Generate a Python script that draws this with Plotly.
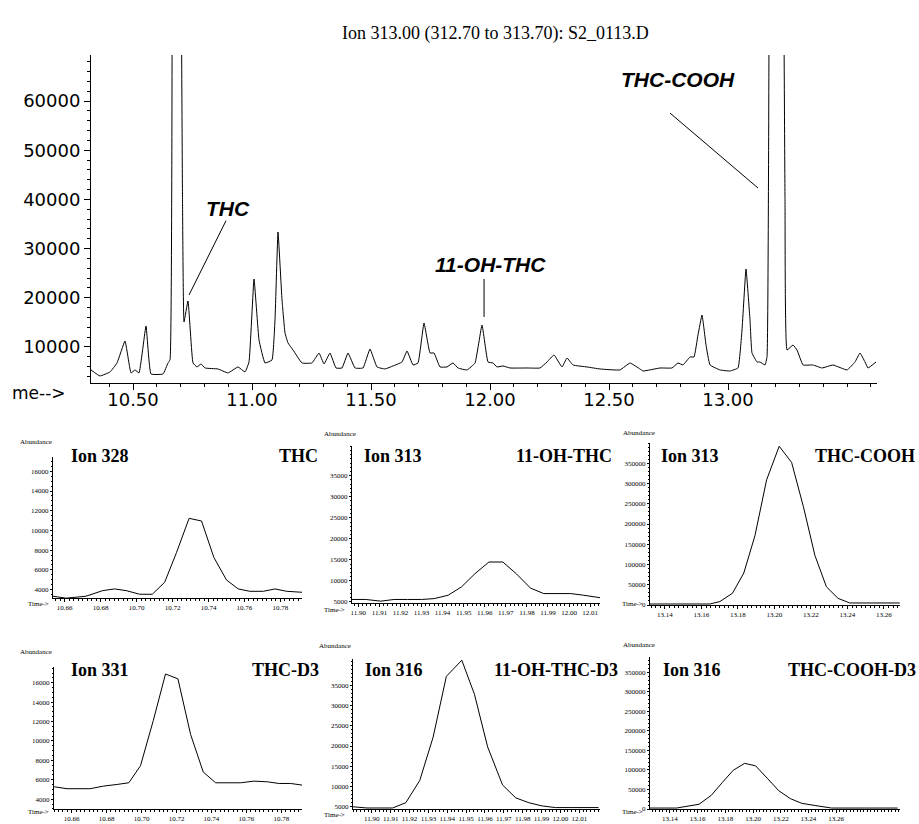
import plotly.graph_objects as go

W, H = 919, 824

# ---------------- data ----------------
# main chromatogram, Ion 313
rt_main = [10.3235, 10.3613, 10.4034, 10.4328, 10.4664, 10.4916, 10.5084, 10.5252, 10.5546, 10.5756,
           10.6261, 10.6471, 10.6555, 10.6660, 10.6807, 10.6954, 10.7080, 10.7143, 10.7311, 10.7521,
           10.7689, 10.7857, 10.8025, 10.8571, 10.8992, 10.9412, 10.9706, 10.9874, 11.0084, 11.0294,
           11.0546, 11.0840, 11.0966, 11.1092, 11.1261, 11.1387, 11.1513, 11.1723, 11.2101, 11.2521,
           11.2815, 11.3025, 11.3277, 11.3529, 11.3782, 11.4034, 11.4328, 11.4664, 11.4958, 11.5252,
           11.5588, 11.5924, 11.6303, 11.6513, 11.6765, 11.6975, 11.7227, 11.7479, 11.7647, 11.7899,
           11.8193, 11.8445, 11.8655, 11.9034, 11.9370, 11.9664, 11.9916, 12.0126, 12.0294, 12.0546,
           12.0840, 12.1555, 12.2101, 12.2395, 12.2689, 12.3025, 12.3235, 12.3487, 12.4076, 12.4622,
           12.5462, 12.5882, 12.6303, 12.6429, 12.7143, 12.7647, 12.7899, 12.8109, 12.8403, 12.8571,
           12.8739, 12.8908, 12.9076, 12.9244, 12.9664, 13.0084, 13.0420, 13.0588, 13.0756, 13.0924,
           13.1008, 13.1218, 13.1345, 13.1555, 13.1639, 13.1765, 13.2017, 13.2269, 13.2395, 13.2479,
           13.2731, 13.2899, 13.3151, 13.3571, 13.3950, 13.4412, 13.5000, 13.5336, 13.5546, 13.5756,
           13.5882, 13.6218]
ab_main = [5330, 4110, 4920, 6750, 11220, 4720, 5330, 4720, 14270, 4510,
           4510, 6750, 7400, 150000, 260000, 150000, 40000, 15100, 19350, 6750,
           5940, 6550, 5730, 5530, 4720, 5940, 4920, 6950, 23820, 11420,
           6750, 7360, 15490, 33370, 19550, 12850, 10810, 9390, 6750, 6750,
           8780, 6550, 8780, 5730, 5730, 8780, 5730, 5730, 9590, 5940,
           5530, 6140, 6950, 9190, 6340, 6750, 14880, 8780, 8780, 5940,
           5940, 6750, 5730, 5330, 6750, 14470, 6950, 6750, 5940, 6140,
           5730, 5730, 5730, 6950, 8370, 5940, 7760, 6340, 5940, 5530,
           5330, 6750, 5530, 5120, 5730, 5730, 6750, 6340, 7970, 7970,
           12440, 16500, 10400, 6340, 5330, 5120, 5730, 13460, 25850, 15490,
           8780, 6950, 6950, 6340, 8000, 150000, 380000, 150000, 40000, 9390,
           10400, 9390, 6340, 6340, 5730, 6340, 5330, 6950, 8780, 6950,
           5730, 6950]

# THC, Ion 328
rt_328 = [10.6535, 10.6607, 10.6718, 10.6812, 10.6877, 10.6942, 10.7017, 10.7087, 10.7156, 10.7222,
          10.7292, 10.7361, 10.7430, 10.7500, 10.7565, 10.7630, 10.7705, 10.7770, 10.7835, 10.7920]
ab_328 = [3330, 3130, 3330, 3900, 4070, 3900, 3530, 3530, 4740, 7760,
          11230, 10960, 7260, 4980, 4070, 3830, 3830, 4070, 3830, 3730]

# 11-OH-THC, Ion 313
rt_313a = [11.8963, 11.9035, 11.9107, 11.9170, 11.9234, 11.9300, 11.9360, 11.9426, 11.9490, 11.9553,
           11.9620, 11.9686, 11.9750, 11.9817, 11.9880, 11.9944, 12.0008, 12.0070, 12.0150]
ab_313a = [5600, 5600, 5200, 5600, 5600, 5600, 5800, 6600, 8600, 11700,
           14500, 14500, 11700, 8300, 7000, 7000, 7000, 6600, 6000]

# THC-COOH, Ion 313
rt_313b = [13.1318, 13.1647, 13.1701, 13.1770, 13.1832, 13.1893, 13.1957, 13.2026, 13.2094, 13.2158,
           13.2222, 13.2285, 13.2349, 13.2413, 13.2504, 13.2687]
ab_313b = [2500, 2500, 8500, 29000, 79000, 171000, 309000, 392000, 352000, 244000,
           122000, 44700, 16300, 5000, 5000, 5000]

# THC-D3, Ion 331
rt_331 = [10.6500, 10.6573, 10.6706, 10.6783, 10.6860, 10.6927, 10.6994, 10.7067, 10.7137, 10.7208,
          10.7281, 10.7353, 10.7424, 10.7490, 10.7567, 10.7643, 10.7720, 10.7787, 10.7853, 10.7920]
ab_331 = [5280, 5080, 5080, 5350, 5520, 5690, 7450, 12100, 16900, 16400,
          10650, 6800, 5690, 5690, 5690, 5860, 5790, 5620, 5620, 5450]

# 11-OH-THC-D3, Ion 316
rt_316a = [11.8900, 11.8974, 11.9044, 11.9110, 11.9180, 11.9254, 11.9325, 11.9395, 11.9477, 11.9544,
           11.9614, 11.9693, 11.9763, 11.9833, 11.9904, 11.9974, 12.0061, 12.0202]
ab_316a = [5000, 4700, 4700, 4700, 6000, 11500, 22200, 37200, 41200, 32800,
           19800, 10400, 7200, 6000, 5200, 4800, 4800, 4800]

# THC-COOH-D3, Ion 316
rt_316b = [13.1257, 13.1448, 13.1610, 13.1698, 13.1780, 13.1857, 13.1940, 13.2019, 13.2102, 13.2186,
           13.2269, 13.2352, 13.2448, 13.2567, 13.2805, 13.3043]
ab_316b = [2400, 2400, 12100, 34700, 68500, 99200, 117000, 110500, 79000, 46800,
           26600, 14500, 8900, 2400, 2400, 2400]

main_xticks = [10.5, 11.0, 11.5, 12.0, 12.5, 13.0]
main_xlabels = ["10.50", "11.00", "11.50", "12.00", "12.50", "13.00"]
main_yticks = [10000, 20000, 30000, 40000, 50000, 60000]

panels = [
    dict(x=rt_328, y=ab_328, ion="Ion 328", cmpd="THC", xr=[10.6535, 10.792], yr=[3150, 17450],
         xt=[10.66, 10.68, 10.70, 10.72, 10.74, 10.76, 10.78], yt=[4000, 6000, 8000, 10000, 12000, 14000, 16000],
         mx=0.0025, my=500, px=(53, 302), py=(457, 598), ionx=100, cx=298, ty=456, abx=36, aby=442, tmx=38, tmy=604),
    dict(x=rt_313a, y=ab_313a, ion="Ion 313", cmpd="11-OH-THC", xr=[11.897, 12.0147], yr=[4760, 42060],
         xt=[11.90, 11.91, 11.92, 11.93, 11.94, 11.95, 11.96, 11.97, 11.98, 11.99, 12.00, 12.01],
         yt=[5000, 10000, 15000, 20000, 25000, 30000, 35000],
         mx=0.002, my=1000, px=(352, 600), py=(446, 603), ionx=393, cx=564, ty=456, abx=340, aby=434, tmx=334, tmy=610),
    dict(x=rt_313b, y=ab_313b, ion="Ion 313", cmpd="THC-COOH", xr=[13.1318, 13.2688], yr=[0, 400000],
         xt=[13.14, 13.16, 13.18, 13.20, 13.22, 13.24, 13.26],
         yt=[0, 50000, 100000, 150000, 200000, 250000, 300000, 350000],
         mx=0.0025, my=10000, px=(650, 900), py=(443, 605), ionx=690, cx=865, ty=456, abx=639, aby=433, tmx=632, tmy=604),
    dict(x=rt_331, y=ab_331, ion="Ion 331", cmpd="THC-D3", xr=[10.6499, 10.7918], yr=[2990, 17620],
         xt=[10.66, 10.68, 10.70, 10.72, 10.74, 10.76, 10.78], yt=[4000, 6000, 8000, 10000, 12000, 14000, 16000],
         mx=0.0025, my=500, px=(54, 302), py=(667, 809), ionx=100, cx=285, ty=670, abx=36, aby=652, tmx=38, tmy=812),
    dict(x=rt_316a, y=ab_316a, ion="Ion 316", cmpd="11-OH-THC-D3", xr=[11.89, 12.021], yr=[4450, 41500],
         xt=[11.90, 11.91, 11.92, 11.93, 11.94, 11.95, 11.96, 11.97, 11.98, 11.99, 12.00, 12.01],
         yt=[5000, 10000, 15000, 20000, 25000, 30000, 35000],
         mx=0.002, my=1000, px=(353, 600), py=(659, 809), ionx=394, cx=556, ty=670, abx=335, aby=646, tmx=334, tmy=815),
    dict(x=rt_316b, y=ab_316b, ion="Ion 316", cmpd="THC-COOH-D3", xr=[13.1257, 13.306], yr=[0, 389500],
         xt=[13.14, 13.16, 13.18, 13.20, 13.22, 13.24, 13.26],
         yt=[0, 50000, 100000, 150000, 200000, 250000, 300000, 350000],
         mx=0.0025, my=10000, px=(650, 900), py=(657, 809), ionx=692, cx=852, ty=670, abx=639, aby=645, tmx=632, tmy=812),
]


def fx(p):
    return p / W


def fy(p):
    return 1 - p / H


fig = go.Figure()

fig.add_trace(go.Scatter(x=rt_main, y=ab_main, mode="lines",
                         line=dict(color="black", width=1, shape="spline", smoothing=0.3),
                         xaxis="x", yaxis="y", hoverinfo="skip"))

MAIN_XR = [10.3235, 13.626]
MAIN_YR = [2680, 69350]
layout = dict(
    width=W, height=H, margin=dict(l=0, r=0, t=0, b=0, autoexpand=False),
    paper_bgcolor="white", plot_bgcolor="white", showlegend=False,
    xaxis=dict(domain=[fx(91), fx(877)], range=MAIN_XR, showline=True, linecolor="black", linewidth=1,
               ticks="outside", ticklen=6, tickcolor="black", tickvals=main_xticks, ticktext=main_xlabels,
               ticklabelstandoff=-6,
               tickfont=dict(family="DejaVu Sans", size=18, color="black"), showgrid=False, zeroline=False,
               minor=dict(dtick=0.1, tick0=10.0, ticks="outside", ticklen=3, tickcolor="black"),
               anchor="y", automargin=False),
    yaxis=dict(domain=[fy(383), fy(55)], range=MAIN_YR, showline=True, linecolor="black", linewidth=1,
               ticks="outside", ticklen=6, tickcolor="black", tickvals=main_yticks,
               ticktext=[str(v) for v in main_yticks],
               tickfont=dict(family="DejaVu Sans", size=18, color="black"), showgrid=False, zeroline=False,
               minor=dict(dtick=2000, tick0=0, ticks="outside", ticklen=3, tickcolor="black"),
               anchor="x", automargin=False),
)


def txt(x, y, text, font, ref="paper"):
    return dict(x=x, y=y, xref=ref if ref == "paper" else ref[0], yref=ref if ref == "paper" else ref[1],
                text=text, showarrow=False, xanchor="center", yanchor="middle", font=font)


annotations = [
    txt(fx(495), fy(33), "Ion 313.00 (312.70 to 313.70): S2_0113.D",
        dict(family="Liberation Serif", size=18, color="black")),
    txt(fx(39), fy(393), "me-->", dict(family="DejaVu Sans", size=17, color="black")),
    txt(10.899, 38250, "<b><i>THC</i></b>", dict(family="Liberation Sans", size=21, color="black"), ("x", "y")),
    txt(12.004, 26670, "<b><i>11-OH-THC</i></b>", dict(family="Liberation Sans", size=21, color="black"), ("x", "y")),
    txt(12.79, 64270, "<b><i>THC-COOH</i></b>", dict(family="Liberation Sans", size=21, color="black"), ("x", "y")),
]
shapes = [
    dict(type="line", xref="x", yref="y", x0=10.8908, y0=35670, x1=10.7353, y1=20570,
         line=dict(color="black", width=1)),
    dict(type="line", xref="x", yref="y", x0=11.975, y0=23820, x1=11.975, y1=16100,
         line=dict(color="black", width=1)),
    dict(type="line", xref="x", yref="y", x0=12.756, y0=57560, x1=13.126, y1=42310,
         line=dict(color="black", width=1)),
]

small_font = dict(family="Liberation Serif", size=7, color="black")
big_font = dict(family="Liberation Serif", size=18, color="black")
for i, p in enumerate(panels, start=2):
    xa, ya = f"xaxis{i}", f"yaxis{i}"
    fig.add_trace(go.Scatter(x=p["x"], y=p["y"], mode="lines", line=dict(color="black", width=1),
                             xaxis=f"x{i}", yaxis=f"y{i}", hoverinfo="skip"))
    layout[xa] = dict(domain=[fx(p["px"][0]), fx(p["px"][1])], range=p["xr"], anchor=f"y{i}",
                      showline=True, linecolor="black", linewidth=1, ticks="outside", ticklen=3,
                      tickcolor="black", tickvals=p["xt"], ticktext=[f"{v:.2f}" for v in p["xt"]],
                      tickfont=small_font, showgrid=False, zeroline=False, automargin=False,
                      minor=dict(dtick=p["mx"], tick0=p["xt"][0], ticks="outside", ticklen=2, tickcolor="black"))
    layout[ya] = dict(domain=[fy(p["py"][1]), fy(p["py"][0])], range=p["yr"], anchor=f"x{i}",
                      showline=True, linecolor="black", linewidth=1, ticks="outside", ticklen=2,
                      tickcolor="black", tickvals=p["yt"], ticktext=[str(v) for v in p["yt"]],
                      tickfont=small_font, showgrid=False, zeroline=False, automargin=False,
                      minor=dict(dtick=p["my"], tick0=0, ticks="outside", ticklen=1, tickcolor="black"))
    annotations += [
        txt(fx(p["ionx"]), fy(p["ty"]), f"<b>{p['ion']}</b>", big_font),
        txt(fx(p["cx"]), fy(p["ty"]), f"<b>{p['cmpd']}</b>", big_font),
        txt(fx(p["abx"]), fy(p["aby"]), "Abundance", small_font),
        txt(fx(p["tmx"]), fy(p["tmy"]), "Time-&gt;", small_font),
    ]

layout["annotations"] = annotations
layout["shapes"] = shapes
fig.update_layout(**layout)
fig.write_html("out.html", config={"displayModeBar": False},
               post_script="document.body.style.margin='0px';document.body.style.overflow='hidden';")
